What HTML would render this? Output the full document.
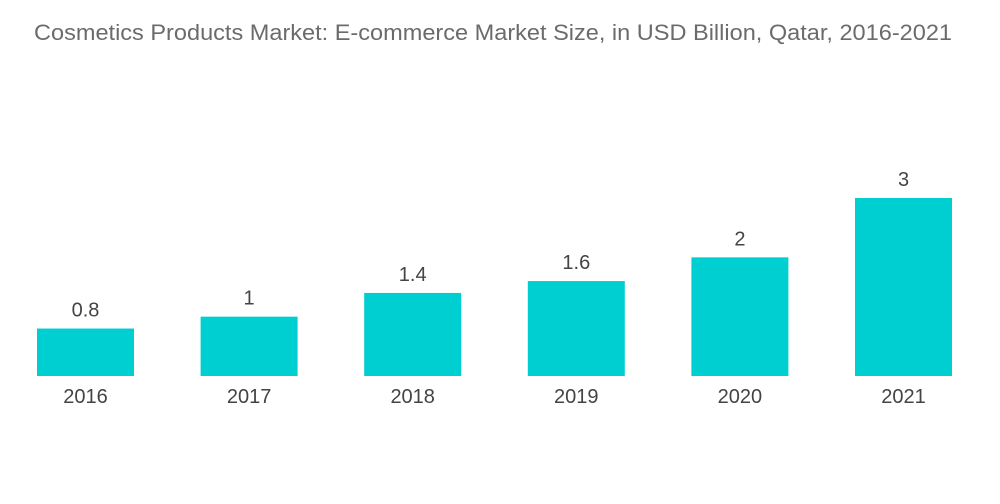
<!DOCTYPE html>
<html>
<head>
<meta charset="utf-8">
<style>
  html, body { margin: 0; padding: 0; background: #ffffff; }
  body { width: 1000px; height: 504px; overflow: hidden; font-family: "Liberation Sans", sans-serif; }
  svg { display: block; }
</style>
</head>
<body>
<svg id="chart" width="1000" height="504">
  <text x="34" y="40" font-size="22" textLength="918" lengthAdjust="spacingAndGlyphs" fill="#6b6b6b" font-family="Liberation Sans, sans-serif">Cosmetics Products Market: E-commerce Market Size, in USD Billion, Qatar, 2016-2021</text>
  <g id="bars"></g>
</svg>
<script>
const categories = ["2016", "2017", "2018", "2019", "2020", "2021"];
const values = [0.8, 1, 1.4, 1.6, 2, 3];
const valueLabels = ["0.8", "1", "1.4", "1.6", "2", "3"];

const baseY = 376, pxPerUnit = 59.33;
const firstCenter = 85.5, step = 163.6, barW = 97;
function xCenter(i) { return firstCenter + i * step; }
function yPos(v) { return baseY - v * pxPerUnit; }

const g = document.getElementById('bars');
const NS = 'http://www.w3.org/2000/svg';
categories.forEach((c, i) => {
  const cx = xCenter(i), top = yPos(values[i]);
  const r = document.createElementNS(NS, 'rect');
  r.setAttribute('x', cx - barW / 2);
  r.setAttribute('y', top);
  r.setAttribute('width', barW);
  r.setAttribute('height', baseY - top);
  r.setAttribute('fill', '#00cfd1');
  
  
  g.appendChild(r);

  const t = document.createElementNS(NS, 'text');
  t.setAttribute('x', cx);
  t.setAttribute('y', top - 12);
  t.setAttribute('text-anchor', 'middle');
  t.setAttribute('font-size', '20');
  t.setAttribute('fill', '#444');
  t.textContent = valueLabels[i];
  
  
  g.appendChild(t);

  const xl = document.createElementNS(NS, 'text');
  xl.setAttribute('x', cx);
  xl.setAttribute('y', 403);
  xl.setAttribute('text-anchor', 'middle');
  xl.setAttribute('font-size', '20');
  xl.setAttribute('fill', '#444');
  xl.textContent = c;
  
  
  g.appendChild(xl);
});
</script>
</body>
</html>
